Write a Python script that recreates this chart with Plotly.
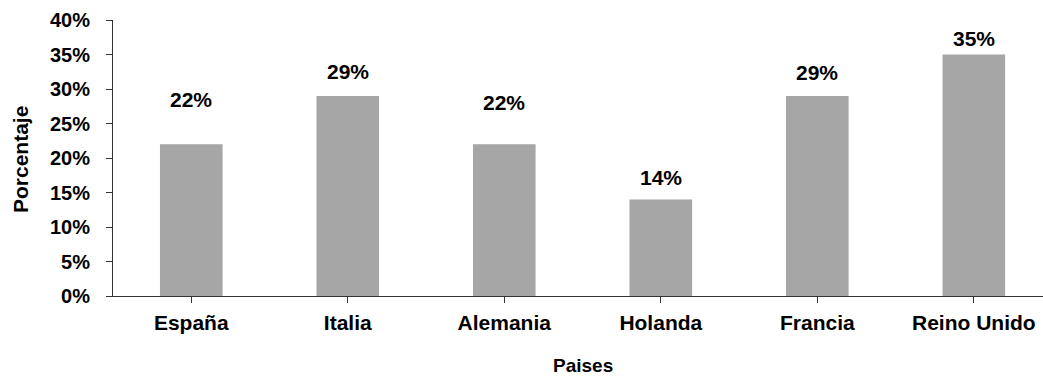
import plotly.graph_objects as go

# Share of respondents per country
paises = ["España", "Italia", "Alemania", "Holanda", "Francia", "Reino Unido"]
porcentaje = [0.22, 0.29, 0.22, 0.14, 0.29, 0.35]

# Vertical offset (px) of each value label above its bar
label_offset = [45, 24, 42, 22, 23, 16]

FONT = "Liberation Sans, Arial, sans-serif"
BAR_COLOR = "#a6a6a6"
AXIS_COLOR = "#333333"

W, H = 1043, 377
M_L, M_R, M_T, M_B = 113, 0, 20, 81
PLOT_W = W - M_L - M_R
PLOT_H = H - M_T - M_B

fig = go.Figure()
fig.add_trace(go.Bar(
    x=list(range(len(paises))),
    y=porcentaje,
    width=0.4,
    marker=dict(color=BAR_COLOR, line=dict(width=0)),
    hoverinfo="skip",
))

annotations = []
for i, (v, off) in enumerate(zip(porcentaje, label_offset)):
    annotations.append(dict(
        x=i, y=v, xref="x", yref="y",
        text=f"<b>{round(v * 100)}%</b>",
        showarrow=False, yshift=off,
        xanchor="center", yanchor="middle",
        font=dict(family=FONT, size=21, color="black"),
    ))

# Axis titles (pixel positions converted to paper fractions)
annotations.append(dict(
    x=2.5, y=(H - M_B - 365) / PLOT_H, xref="x", yref="paper",
    text="<b>Paises</b>", showarrow=False,
    xanchor="center", yanchor="middle",
    font=dict(family=FONT, size=19, color="black"),
))
annotations.append(dict(
    x=(20 - M_L) / PLOT_W, y=(H - M_B - 160) / PLOT_H, xref="paper", yref="paper",
    text="<b>Porcentaje</b>", showarrow=False, textangle=-90,
    xanchor="center", yanchor="middle",
    font=dict(family=FONT, size=21, color="black"),
))

fig.update_layout(
    width=W, height=H,
    margin=dict(l=M_L, r=M_R, t=M_T, b=M_B, pad=0),
    paper_bgcolor="white", plot_bgcolor="white",
    showlegend=False,
    font=dict(family=FONT, color="black"),
    annotations=annotations,
)

fig.update_xaxes(
    tickmode="array",
    tickvals=list(range(len(paises))),
    ticktext=[f"<b>{p}</b>" for p in paises],
    range=[-0.5, 5.442],
    tickson="boundaries",
    ticks="outside", ticklen=6, tickwidth=1, tickcolor=AXIS_COLOR,
    showline=True, linecolor=AXIS_COLOR, linewidth=1,
    showgrid=False, zeroline=False,
    tickfont=dict(family=FONT, size=21, color="black"),
    ticklabelstandoff=2,
)

fig.update_yaxes(
    range=[0, 0.40],
    tickmode="array",
    tickvals=[i * 0.05 for i in range(9)],
    ticktext=[f"<b>{i * 5}%</b>" for i in range(9)],
    ticks="outside", ticklen=6, tickwidth=1, tickcolor=AXIS_COLOR,
    showline=True, linecolor=AXIS_COLOR, linewidth=1,
    showgrid=False, zeroline=False,
    tickfont=dict(family=FONT, size=20, color="black"),
    ticklabelstandoff=12,
)

fig.write_html("out.html")
